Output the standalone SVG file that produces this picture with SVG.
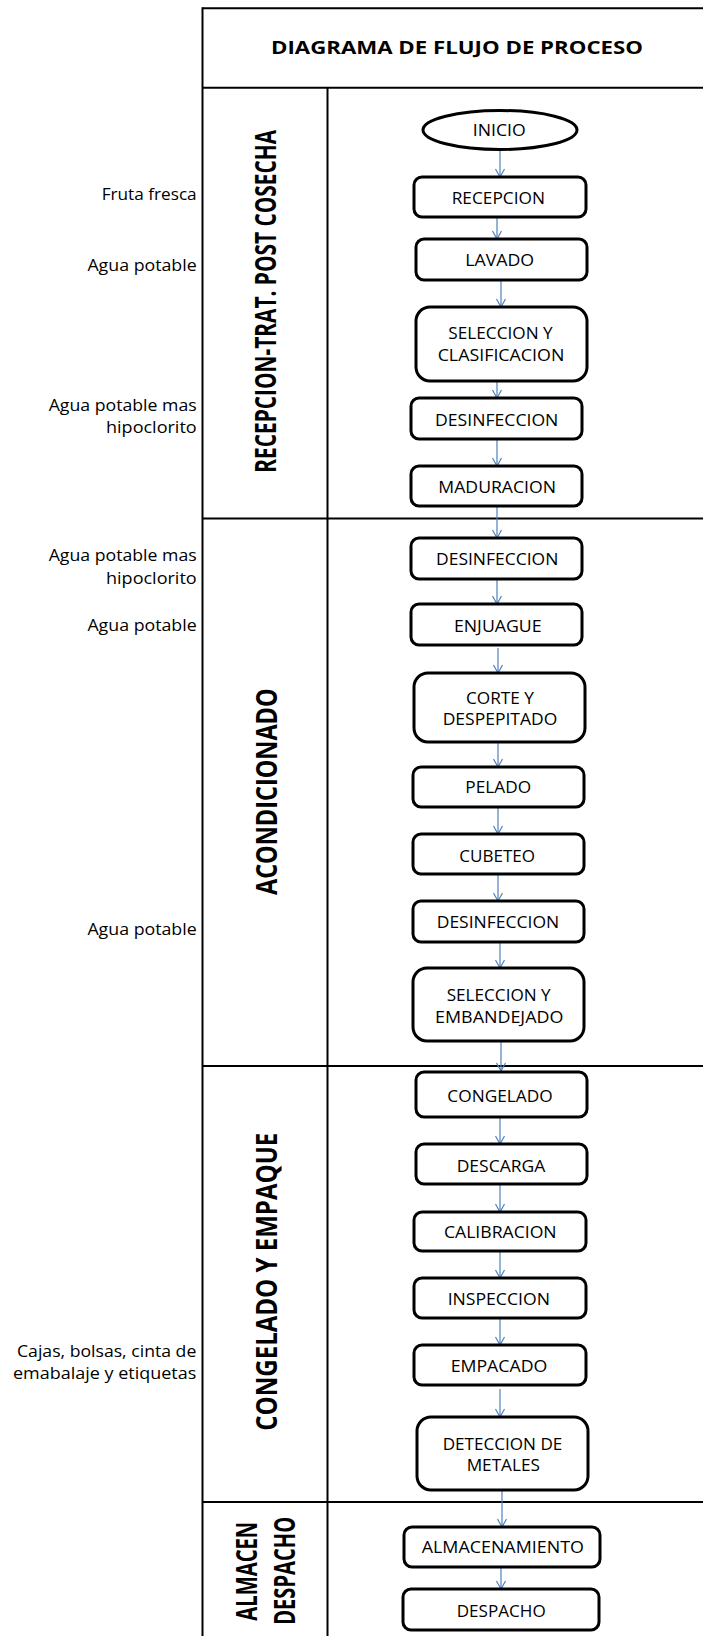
<svg xmlns="http://www.w3.org/2000/svg" width="703" height="1636" viewBox="0 0 703 1636">
<style>
.frame{stroke:#000;stroke-width:2;fill:none}
.box{fill:#fff;stroke:#000;stroke-width:3}
.t{font-family:"Open Sans","Liberation Sans",sans-serif;font-size:17px;fill:#000;text-anchor:middle}
.side{font-family:"Open Sans","Liberation Sans",sans-serif;font-size:16.3px;fill:#000;text-anchor:end}
.lane{font-family:"Open Sans","Liberation Sans",sans-serif;font-size:28px;font-weight:bold;fill:#000;text-anchor:middle}
.title{font-family:"Open Sans","Liberation Sans",sans-serif;font-size:18.6px;font-weight:bold;fill:#000;text-anchor:middle}
.c{stroke:#4F81BD;stroke-width:1.2;fill:none;marker-end:url(#arr)}
</style>
<defs>
<marker id="arr" markerUnits="userSpaceOnUse" markerWidth="12" markerHeight="12" viewBox="0 0 12 12" refX="10" refY="6" orient="auto">
<path d="M2,1.5 L10,6 L2,10.5" fill="none" stroke="#4F81BD" stroke-width="1.2"/>
</marker>
</defs>
<rect width="703" height="1636" fill="#fff"/>
<g id="frame">
<line class="frame" x1="202.5" y1="8.3" x2="703" y2="8.3"/>
<line class="frame" x1="202.5" y1="87.7" x2="703" y2="87.7"/>
<line class="frame" x1="202.5" y1="7.3" x2="202.5" y2="1636"/>
<line class="frame" x1="327.5" y1="87.7" x2="327.5" y2="1636"/>
<line class="frame" x1="202.5" y1="518.5" x2="703" y2="518.5"/>
<line class="frame" x1="202.5" y1="1066" x2="703" y2="1066"/>
<line class="frame" x1="202.5" y1="1502" x2="703" y2="1502"/>
<text class="title" x="457" y="54.3" textLength="372" lengthAdjust="spacingAndGlyphs">DIAGRAMA DE FLUJO DE PROCESO</text>
</g>
<g id="lanes">
<text class="lane" transform="translate(275.5,301.3) rotate(-90)" textLength="342.7" lengthAdjust="spacingAndGlyphs">RECEPCION-TRAT. POST COSECHA</text>
<text class="lane" transform="translate(277,791.7) rotate(-90)" textLength="206.7" lengthAdjust="spacingAndGlyphs">ACONDICIONADO</text>
<text class="lane" transform="translate(277,1281.7) rotate(-90)" textLength="298" lengthAdjust="spacingAndGlyphs">CONGELADO Y EMPAQUE</text>
<text class="lane" transform="translate(256.5,1571.2) rotate(-90)" textLength="99" lengthAdjust="spacingAndGlyphs">ALMACEN</text>
<text class="lane" transform="translate(295,1570.8) rotate(-90)" textLength="108" lengthAdjust="spacingAndGlyphs">DESPACHO</text>
</g>
<g id="inputs">
<text class="side" x="196.7" y="200" textLength="95" lengthAdjust="spacingAndGlyphs">Fruta fresca</text>
<text class="side" x="196.7" y="270.7" textLength="109.3" lengthAdjust="spacingAndGlyphs">Agua potable</text>
<text class="side" x="196.7" y="410.7" textLength="148" lengthAdjust="spacingAndGlyphs">Agua potable mas</text>
<text class="side" x="196.7" y="433.3" textLength="90.7" lengthAdjust="spacingAndGlyphs">hipoclorito</text>
<text class="side" x="196.7" y="560.7" textLength="148" lengthAdjust="spacingAndGlyphs">Agua potable mas</text>
<text class="side" x="196.7" y="584" textLength="90.7" lengthAdjust="spacingAndGlyphs">hipoclorito</text>
<text class="side" x="196.7" y="631" textLength="109.3" lengthAdjust="spacingAndGlyphs">Agua potable</text>
<text class="side" x="196.7" y="935" textLength="109.3" lengthAdjust="spacingAndGlyphs">Agua potable</text>
<text class="side" x="196.3" y="1356.7" textLength="179.3" lengthAdjust="spacingAndGlyphs">Cajas, bolsas, cinta de</text>
<text class="side" x="196.3" y="1379.3" textLength="183.3" lengthAdjust="spacingAndGlyphs">emabalaje y etiquetas</text>
</g>
<g id="connectors">
<line class="c" x1="500" y1="150" x2="500" y2="177"/>
<line class="c" x1="497" y1="217" x2="497" y2="239"/>
<line class="c" x1="501" y1="280" x2="501" y2="307"/>
<line class="c" x1="497" y1="374" x2="497" y2="398"/>
<line class="c" x1="497" y1="439" x2="497" y2="466"/>
<line class="c" x1="497" y1="506" x2="497" y2="538"/>
<line class="c" x1="497" y1="579" x2="497" y2="604"/>
<line class="c" x1="498" y1="648" x2="498" y2="673"/>
<line class="c" x1="498" y1="740" x2="498" y2="767"/>
<line class="c" x1="498" y1="808" x2="498" y2="834"/>
<line class="c" x1="498" y1="874" x2="498" y2="901"/>
<line class="c" x1="500" y1="942" x2="500" y2="968"/>
<line class="c" x1="501" y1="1037" x2="501" y2="1071"/>
<line class="c" x1="500" y1="1117" x2="500" y2="1144"/>
<line class="c" x1="500" y1="1184" x2="500" y2="1212"/>
<line class="c" x1="500" y1="1251" x2="500" y2="1278"/>
<line class="c" x1="500" y1="1318" x2="500" y2="1345"/>
<line class="c" x1="500" y1="1389" x2="500" y2="1417"/>
<line class="c" x1="502" y1="1490" x2="502" y2="1527"/>
<line class="c" x1="501" y1="1567" x2="501" y2="1589"/>
</g>
<g id="n-inicio"><ellipse class="box" cx="500" cy="130" rx="77" ry="19.5"/><text class="t" x="499.3" y="136" textLength="53" lengthAdjust="spacingAndGlyphs">INICIO</text></g>
<g id="n-recepcion"><rect class="box" x="414" y="177" width="172" height="40" rx="8"/><text class="t" x="498.3" y="203.5" textLength="93.3" lengthAdjust="spacingAndGlyphs">RECEPCION</text></g>
<g id="n-lavado"><rect class="box" x="416" y="239" width="171" height="41" rx="8"/><text class="t" x="499.7" y="265.7" textLength="69" lengthAdjust="spacingAndGlyphs">LAVADO</text></g>
<g id="n-seleccion1"><rect class="box" x="416" y="307" width="171" height="74" rx="14"/><text class="t" x="500.5" y="339" textLength="104.3" lengthAdjust="spacingAndGlyphs">SELECCION Y</text><text class="t" x="501" y="360.7" textLength="126.7" lengthAdjust="spacingAndGlyphs">CLASIFICACION</text></g>
<g id="n-desinfeccion1"><rect class="box" x="411" y="398" width="171" height="41" rx="8"/><text class="t" x="496.7" y="425.7" textLength="123.3" lengthAdjust="spacingAndGlyphs">DESINFECCION</text></g>
<g id="n-maduracion"><rect class="box" x="411" y="466" width="171" height="40" rx="8"/><text class="t" x="497.2" y="492.7" textLength="117.7" lengthAdjust="spacingAndGlyphs">MADURACION</text></g>
<g id="n-desinfeccion2"><rect class="box" x="411" y="538" width="171" height="41" rx="8"/><text class="t" x="497.2" y="565" textLength="122.3" lengthAdjust="spacingAndGlyphs">DESINFECCION</text></g>
<g id="n-enjuague"><rect class="box" x="411" y="604" width="171" height="41" rx="8"/><text class="t" x="497.8" y="631.7" textLength="87.7" lengthAdjust="spacingAndGlyphs">ENJUAGUE</text></g>
<g id="n-corte"><rect class="box" x="414" y="673" width="171" height="69" rx="14"/><text class="t" x="500" y="703.7" textLength="68" lengthAdjust="spacingAndGlyphs">CORTE Y</text><text class="t" x="500" y="724.7" textLength="114.7" lengthAdjust="spacingAndGlyphs">DESPEPITADO</text></g>
<g id="n-pelado"><rect class="box" x="413" y="767" width="171" height="40" rx="8"/><text class="t" x="498.2" y="793.3" textLength="65.7" lengthAdjust="spacingAndGlyphs">PELADO</text></g>
<g id="n-cubeteo"><rect class="box" x="413" y="834" width="171" height="40" rx="8"/><text class="t" x="497.2" y="861.7" textLength="75.7" lengthAdjust="spacingAndGlyphs">CUBETEO</text></g>
<g id="n-desinfeccion3"><rect class="box" x="413" y="901" width="171" height="41" rx="8"/><text class="t" x="498" y="927.7" textLength="122.6" lengthAdjust="spacingAndGlyphs">DESINFECCION</text></g>
<g id="n-seleccion2"><rect class="box" x="413" y="968" width="171" height="73" rx="14"/><text class="t" x="498.7" y="1000.7" textLength="104" lengthAdjust="spacingAndGlyphs">SELECCION Y</text><text class="t" x="499.2" y="1022.7" textLength="128.3" lengthAdjust="spacingAndGlyphs">EMBANDEJADO</text></g>
<g id="n-congelado"><rect class="box" x="416" y="1072" width="171" height="45" rx="8"/><text class="t" x="500" y="1101.7" textLength="105.3" lengthAdjust="spacingAndGlyphs">CONGELADO</text></g>
<g id="n-descarga"><rect class="box" x="416" y="1144" width="171" height="40" rx="8"/><text class="t" x="501" y="1171.7" textLength="88.7" lengthAdjust="spacingAndGlyphs">DESCARGA</text></g>
<g id="n-calibracion"><rect class="box" x="414" y="1212" width="172" height="39" rx="8"/><text class="t" x="500.3" y="1237.7" textLength="112.7" lengthAdjust="spacingAndGlyphs">CALIBRACION</text></g>
<g id="n-inspeccion"><rect class="box" x="414" y="1278" width="172" height="40" rx="8"/><text class="t" x="498.8" y="1304.7" textLength="102.3" lengthAdjust="spacingAndGlyphs">INSPECCION</text></g>
<g id="n-empacado"><rect class="box" x="414" y="1345" width="172" height="40" rx="8"/><text class="t" x="499" y="1372.3" textLength="96.7" lengthAdjust="spacingAndGlyphs">EMPACADO</text></g>
<g id="n-deteccion"><rect class="box" x="417" y="1417" width="171" height="73" rx="14"/><text class="t" x="502.5" y="1450" textLength="119.7" lengthAdjust="spacingAndGlyphs">DETECCION DE</text><text class="t" x="503.3" y="1470.7" textLength="73.3" lengthAdjust="spacingAndGlyphs">METALES</text></g>
<g id="n-almacenamiento"><rect class="box" x="404" y="1527" width="196" height="40" rx="8"/><text class="t" x="502.8" y="1553.3" textLength="162.3" lengthAdjust="spacingAndGlyphs">ALMACENAMIENTO</text></g>
<g id="n-despacho"><rect class="box" x="403" y="1589" width="196" height="41" rx="8"/><text class="t" x="501.2" y="1616.7" textLength="89" lengthAdjust="spacingAndGlyphs">DESPACHO</text></g>
</svg>
